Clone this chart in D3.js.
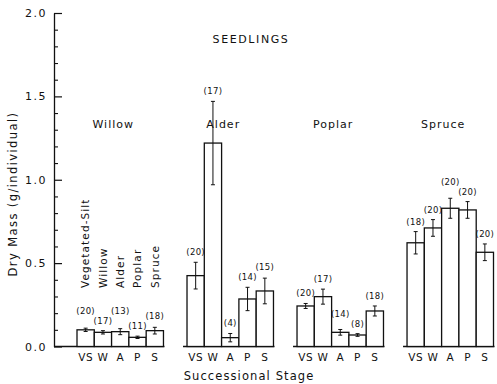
<!DOCTYPE html>
<html>
<head>
<meta charset="utf-8">
<script src="https://cdn.jsdelivr.net/npm/d3@7"></script>
<style>
  html, body { margin: 0; padding: 0; background: #fff; }
  svg { display: block; }
  text { font-family: "DejaVu Sans", "Liberation Sans", sans-serif; fill: #111; }
</style>
</head>
<body>
<svg id="chart" width="497" height="384"></svg>
<script>
// Seedling dry mass by substrate species (panels) and successional stage (bars)
const species = ["Willow", "Alder", "Poplar", "Spruce"];
const stages = ["VS", "W", "A", "P", "S"];
const stageNames = ["Vegetated-Silt", "Willow", "Alder", "Poplar", "Spruce"];

// mean dry mass (g/individual), one array per species, in stage order
const willowMean = [0.10, 0.085, 0.089, 0.055, 0.095];
const alderMean  = [0.425, 1.22, 0.053, 0.285, 0.333];
const poplarMean = [0.243, 0.299, 0.085, 0.069, 0.213];
const spruceMean = [0.622, 0.711, 0.829, 0.819, 0.565];

// standard errors
const willowErr = [0.010, 0.010, 0.018, 0.007, 0.020];
const alderErr  = [0.080, 0.250, 0.025, 0.070, 0.077];
const poplarErr = [0.015, 0.045, 0.017, 0.008, 0.030];
const spruceErr = [0.067, 0.050, 0.060, 0.050, 0.050];

// sample sizes
const willowN = [20, 17, 13, 11, 18];
const alderN  = [20, 17, 4, 14, 15];
const poplarN = [20, 17, 14, 8, 18];
const spruceN = [18, 20, 20, 20, 20];

const yMajorTicks = [0, 0.5, 1.0, 1.5, 2.0];

const means = [willowMean, alderMean, poplarMean, spruceMean];
const errs = [willowErr, alderErr, poplarErr, spruceErr];
const counts = [willowN, alderN, poplarN, spruceN];

const svg = d3.select("#chart");
const axisX = 54;

const y = d3.scaleLinear().domain([0, 2]).range([346.5, 13]);
const panelX = d3.scaleBand().domain(species).range([77, 493.5])
  .paddingInner(0.214).paddingOuter(0);
const stageX = d3.scaleBand().domain(stages).range([0, panelX.bandwidth()]);

const ink = "#111";

// y axis: major ticks with labels, minor ticks every 0.1, all pointing inward
const yAxisMajor = d3.axisLeft(y).tickValues(yMajorTicks)
  .tickFormat(d3.format(".1f")).tickSize(-8).tickSizeOuter(0).tickPadding(7);
const gy = svg.append("g").attr("transform", `translate(${axisX},0)`).call(yAxisMajor);
gy.selectAll("path.domain").attr("stroke", ink).attr("stroke-width", 1.3);
gy.selectAll(".tick line").attr("stroke", ink).attr("stroke-width", 1.2);
gy.selectAll(".tick text").attr("fill", ink)
  .style("font-size", "11px").style("letter-spacing", "1.5px");

const minorVals = d3.range(1, 20).map(i => i / 10).filter(v => Math.abs(v * 2 - Math.round(v * 2)) > 1e-6);
const yAxisMinor = d3.axisLeft(y).tickValues(minorVals).tickFormat("").tickSize(-4).tickSizeOuter(0);
const gym = svg.append("g").attr("transform", `translate(${axisX},0)`).call(yAxisMinor);
gym.select("path.domain").remove();
gym.selectAll(".tick line").attr("stroke", ink).attr("stroke-width", 1.1);

// y axis title
svg.append("text")
  .attr("transform", `translate(13,${194}) rotate(-90)`)
  .attr("text-anchor", "middle").attr("dy", "0.35em")
  .style("font-size", "11.5px").style("letter-spacing", "1.4px")
  .text("Dry Mass (g/individual)");

// main title
svg.append("text").attr("x", 251).attr("y", 39).attr("dy", "0.35em")
  .attr("text-anchor", "middle")
  .style("font-size", "11px").style("letter-spacing", "1.6px")
  .text("SEEDLINGS");

// x axis title
svg.append("text").attr("x", 249).attr("y", 376).attr("dy", "0.35em")
  .attr("text-anchor", "middle")
  .style("font-size", "11.5px").style("letter-spacing", "1.1px")
  .text("Successional Stage");

species.forEach((sp, si) => {
  const x0 = panelX(sp);
  const g = svg.append("g").attr("transform", `translate(${x0},0)`);
  const rows = stages.map((st, i) => ({ st, v: means[si][i], e: errs[si][i], n: counts[si][i] }));

  // panel baseline
  const lineStart = si === 0 ? axisX - x0 : -4;
  g.append("line")
    .attr("x1", lineStart).attr("x2", panelX.bandwidth() + 1)
    .attr("y1", y(0)).attr("y2", y(0))
    .attr("stroke", ink).attr("stroke-width", 1.3);

  // bars
  g.selectAll("rect.bar").data(rows).join("rect").attr("class", "bar")
    .attr("x", d => stageX(d.st)).attr("width", stageX.bandwidth())
    .attr("y", d => y(d.v)).attr("height", d => y(0) - y(d.v))
    .attr("fill", "#fff").attr("stroke", ink).attr("stroke-width", 1.3);

  // error bars
  const cx = d => stageX(d.st) + stageX.bandwidth() / 2;
  const eb = g.selectAll("g.err").data(rows).join("g").attr("class", "err");
  eb.append("line").attr("x1", cx).attr("x2", cx)
    .attr("y1", d => y(d.v + d.e)).attr("y2", d => y(d.v - d.e))
    .attr("stroke", ink).attr("stroke-width", 1);
  [1, -1].forEach(s => {
    eb.append("line").attr("x1", d => cx(d) - 2).attr("x2", d => cx(d) + 2)
      .attr("y1", d => y(d.v + s * d.e)).attr("y2", d => y(d.v + s * d.e))
      .attr("stroke", ink).attr("stroke-width", 1);
  });

  // sample size labels: above the error bar, raised when crowding a neighbour
  const ly = rows.map(d => y(d.v + d.e) - 10);
  for (let i = 1; i < ly.length; i++) {
    if (Math.abs(ly[i] - ly[i - 1]) < 10) {
      if (ly[i] < ly[i - 1]) ly[i] = ly[i - 1] - 10;
      else ly[i - 1] = ly[i] - 10;
    }
  }
  g.selectAll("text.n").data(rows).join("text").attr("class", "n")
    .attr("x", cx).attr("y", (d, i) => ly[i]).attr("dy", "0.35em")
    .attr("text-anchor", "middle")
    .style("font-size", "8.5px").style("letter-spacing", "0.3px")
    .text(d => `(${d.n})`);

  // stage tick labels
  g.selectAll("text.st").data(rows).join("text").attr("class", "st")
    .attr("x", cx).attr("y", 357).attr("dy", "0.35em")
    .attr("text-anchor", "middle")
    .style("font-size", "10.5px").style("letter-spacing", "0.5px")
    .text(d => d.st);

  // panel title
  g.append("text").attr("x", panelX.bandwidth() / 2 - 7).attr("y", 124).attr("dy", "0.35em")
    .attr("text-anchor", "middle")
    .style("font-size", "11px").style("letter-spacing", "1px")
    .text(sp);
});

// stage legend written vertically over the first panel's bars
const gl = svg.append("g").attr("transform", `translate(${panelX(species[0])},0)`);
gl.selectAll("text").data(stages).join("text")
  .attr("transform", (d, i) => `translate(${stageX(d) + stageX.bandwidth() / 2},288) rotate(-90)`)
  .attr("dy", "0.35em")
  .style("font-size", "10.5px").style("letter-spacing", "1.1px")
  .text((d, i) => stageNames[i]);
</script>
</body>
</html>
